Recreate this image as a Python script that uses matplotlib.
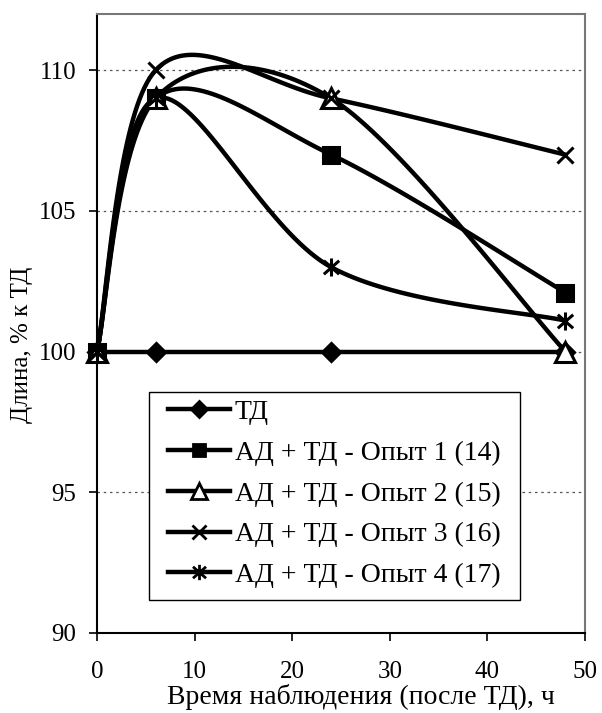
import numpy as np
import matplotlib
matplotlib.use("Agg")
import matplotlib.pyplot as plt
from matplotlib.path import Path
from matplotlib.lines import Line2D
from matplotlib.patches import Rectangle

plt.rcParams['font.family'] = ['Liberation Serif', 'DejaVu Serif']

hours = [0, 6, 24, 48]
td = [100, 100, 100, 100]
op1 = [100, 109, 107, 102.1]
op2 = [100, 109, 109, 100]
op3 = [100, 110, 109, 107]
op4 = [100, 109, 103, 101.1]

labels = ["ТД", "АД + ТД - Опыт 1 (14)", "АД + ТД - Опыт 2 (15)",
          "АД + ТД - Опыт 3 (16)", "АД + ТД - Опыт 4 (17)"]
series = [td, op1, op2, op3, op4]

# asterisk marker: vertical bar + X
ast = Path([(0, -1), (0, 1), (-0.85, -0.75), (0.85, 0.75), (-0.85, 0.75), (0.85, -0.75)],
           [Path.MOVETO, Path.LINETO, Path.MOVETO, Path.LINETO, Path.MOVETO, Path.LINETO])

markers = ['D', 's', '^', 'x', ast]
mfc = ['black', 'black', 'white', 'black', 'black']
msize = [9, 11, 14, 12, 13]


def smooth(xs, ys, n=40):
    pts = np.column_stack([xs, ys]).astype(float)
    ext = np.vstack([pts[0], pts, pts[-1]])
    out = []
    for i in range(len(pts) - 1):
        p0, p1, p2, p3 = ext[i], ext[i + 1], ext[i + 2], ext[i + 3]
        c1 = p1 + (p2 - p0) / 6.0
        c2 = p2 - (p3 - p1) / 6.0
        t = np.linspace(0, 1, n)[:, None]
        b = ((1 - t) ** 3) * p1 + 3 * ((1 - t) ** 2) * t * c1 + 3 * (1 - t) * t ** 2 * c2 + t ** 3 * p2
        out.append(b if i == 0 else b[1:])
    b = np.vstack(out)
    return b[:, 0], b[:, 1]


fig = plt.figure(figsize=(6.02, 7.13), dpi=100)
ax = fig.add_axes([97 / 602, 80 / 713, 488 / 602, 619 / 713])

for ys, m, fc, ms in zip(series, markers, mfc, msize):
    sx, sy = smooth(hours, ys)
    ax.plot(sx, sy, color='black', lw=3.2, solid_capstyle='round', zorder=3)
    ax.plot(hours, ys, linestyle='none', marker=m, markersize=ms,
            markerfacecolor=fc, markeredgecolor='black', markeredgewidth=2.2, zorder=4,
            clip_on=False)

ax.set_xlim(0, 50)
ax.set_ylim(90, 112)
ax.set_xticks([0, 10, 20, 30, 40, 50])
ax.set_yticks([90, 95, 100, 105, 110])
for yv in [95, 100, 105, 110]:
    ax.axhline(yv, color='#555555', lw=0.9, ls=(0, (2, 3)), zorder=1)

ax.tick_params(axis='both', labelsize=18, direction='out', length=6, width=1.2)
ax.tick_params(axis='x', pad=14)
ax.tick_params(axis='y', pad=9)
for s in ['top', 'right']:
    ax.spines[s].set_color('#777777')
    ax.spines[s].set_linewidth(1.5)
for s in ['left', 'bottom']:
    ax.spines[s].set_color('black')
    ax.spines[s].set_linewidth(1.5)

ax.set_xlabel("Время наблюдения (после ТД), ч", fontsize=20)
ax.xaxis.set_label_coords(0.541, -0.083, transform=ax.transAxes)
ax.set_ylabel("Длина, % к ТД", fontsize=18)
ax.yaxis.set_label_coords(-0.131, 0.465, transform=ax.transAxes)

# legend frame
ax.add_patch(Rectangle((0.1066, 0.0533), 0.7604, 0.3357, transform=ax.transAxes,
                       facecolor='white', edgecolor='black', lw=1.0, zorder=5))

handles = [Line2D([0], [0], color='black', lw=3.2, marker=m, markersize=ms * 0.85,
                  markerfacecolor=fc, markeredgecolor='black', markeredgewidth=2)
           for m, fc, ms in zip(markers, mfc, msize)]
leg = ax.legend(handles, labels, loc='upper left', bbox_to_anchor=(0.1455, 0.377),
                fontsize=20, frameon=False, handlelength=2.23, handletextpad=0.18,
                labelspacing=0.55, borderpad=0, borderaxespad=0)
leg.set_zorder(6)

fig.savefig("out.png", dpi=100)
